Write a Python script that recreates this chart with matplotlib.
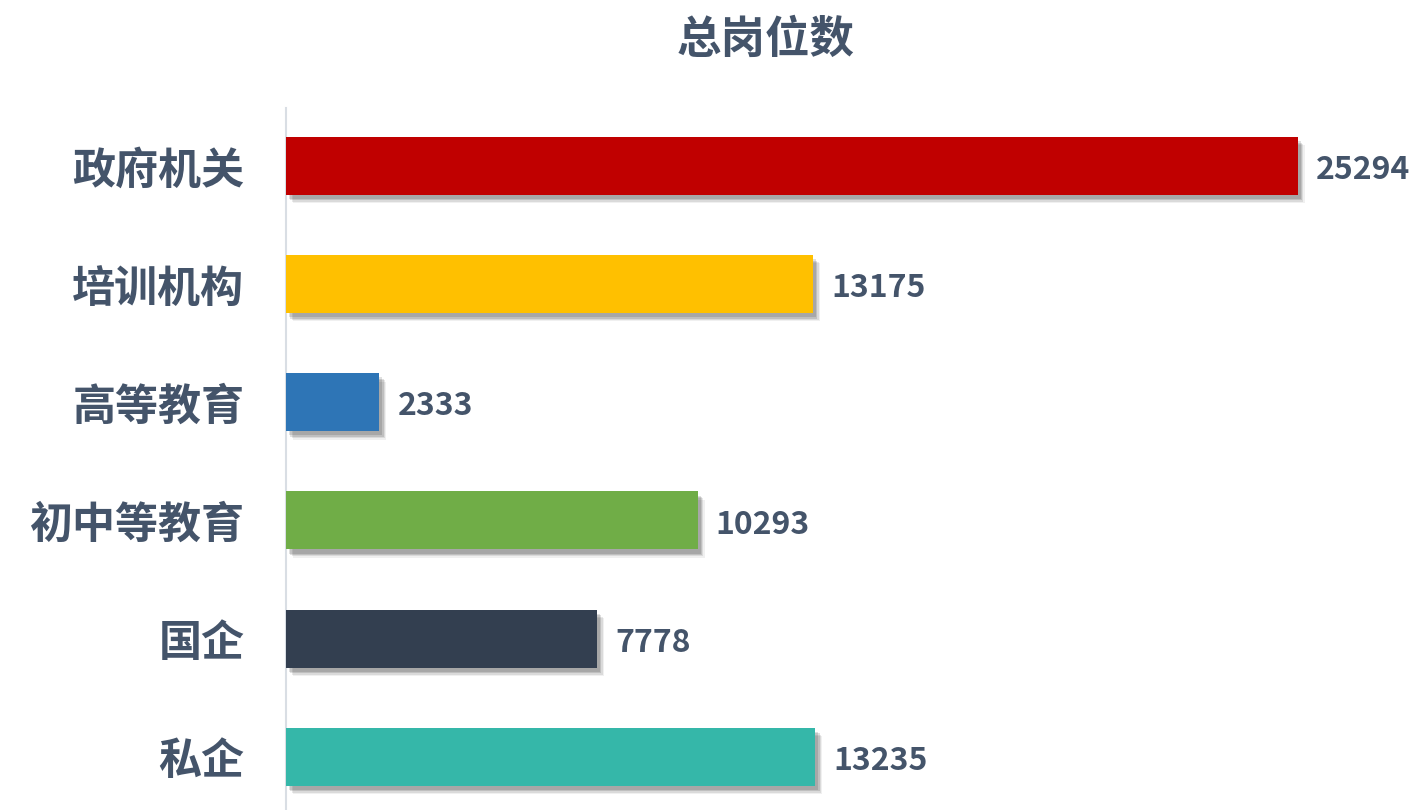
import matplotlib
matplotlib.use("Agg")
import matplotlib.pyplot as plt
import matplotlib.patheffects as pe

plt.rcParams['font.family'] = ['Noto Sans CJK SC', 'DejaVu Sans']

categories = ["政府机关", "培训机构", "高等教育", "初中等教育", "国企", "私企"]
values = [25294, 13175, 2333, 10293, 7778, 13235]
colors = ["#C00000", "#FFC000", "#2E75B6", "#70AD47", "#333F50", "#35B7A9"]
title = "总岗位数"
text_color = "#44546A"

W, H = 1416, 810
fig = plt.figure(figsize=(W / 100, H / 100), dpi=100)
left_px, top_px = 286, 108
ax = fig.add_axes([left_px / W, 0, 1 - left_px / W, 1 - top_px / H])

pos = list(range(len(categories)))
bars = ax.barh(pos, values, height=0.49, color=colors, zorder=3)

# soft drop shadow below and to the right of each bar
for b in bars:
    b.set_path_effects([
        pe.SimplePatchShadow(offset=(5, -6), shadow_rgbFace="#000000", alpha=0.06),
        pe.SimplePatchShadow(offset=(4, -5), shadow_rgbFace="#000000", alpha=0.09),
        pe.SimplePatchShadow(offset=(3, -4), shadow_rgbFace="#000000", alpha=0.12),
        pe.SimplePatchShadow(offset=(2, -3), shadow_rgbFace="#000000", alpha=0.12),
        pe.Normal(),
    ])

ax.set_ylim(5.45, -0.49)
ax.set_xlim(0, 28245)

for p, v in zip(pos, values):
    ax.annotate(f"{v}", xy=(v, p), xytext=(13, -3), textcoords="offset points",
                va="center", ha="left", fontsize=23, fontweight="bold",
                color=text_color)

ax.set_yticks(pos)
ax.set_yticklabels(categories, fontsize=31, fontweight="bold", color=text_color)
ax.tick_params(axis="y", length=0, pad=30)
ax.set_xticks([])

for s in ["top", "right", "bottom"]:
    ax.spines[s].set_visible(False)
ax.spines["left"].set_color("#D9DEE4")
ax.spines["left"].set_linewidth(1.5)

fig.text(766 / W, 1 - 40 / H, title, ha="center", va="center",
         fontsize=32, fontweight="bold", color=text_color)

fig.savefig("out.png", dpi=100, facecolor="white")
